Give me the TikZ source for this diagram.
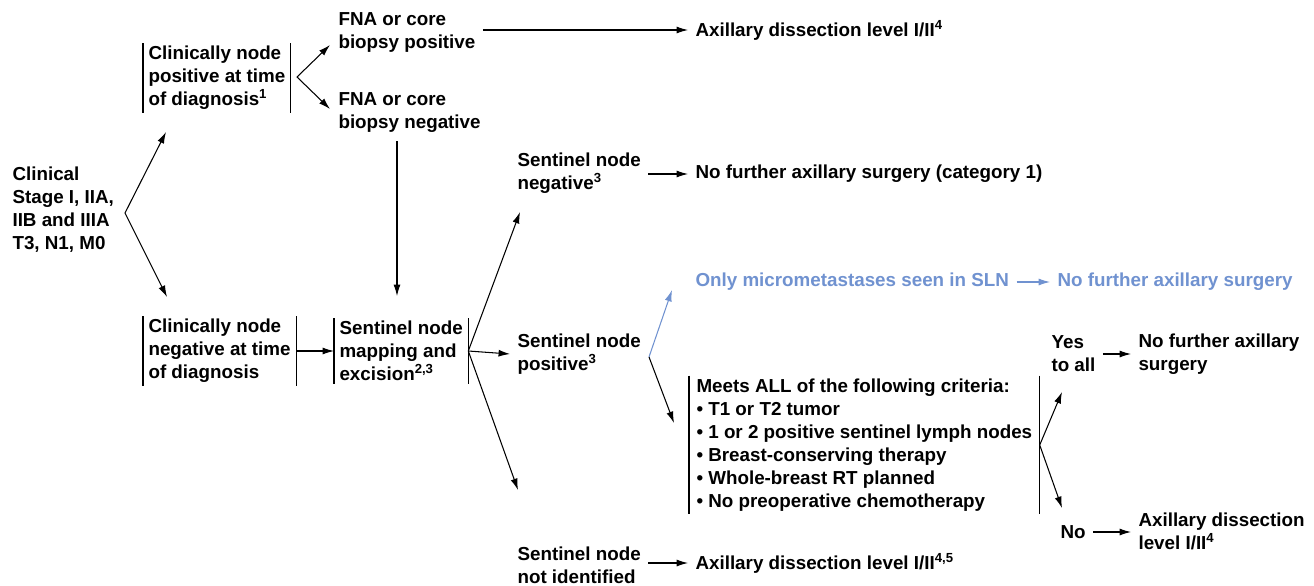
\documentclass[tikz,border=0pt]{standalone}
\usepackage{fontspec}
\setmainfont{Liberation Sans}
\usetikzlibrary{arrows.meta}
\definecolor{slnblue}{RGB}{112,146,208}

\begin{document}
\begin{tikzpicture}[x=0.02cm,y=-0.02cm,
    font=\bfseries\fontsize{10.7}{13.1}\selectfont,
    line width=0.6pt, >={Latex[length=6.5pt,width=4pt]},
    txt/.style={anchor=west,align=left,inner xsep=0.14cm,inner ysep=0pt},
    barbox/.style={anchor=west,align=left,inner xsep=0.1cm,inner ysep=0.05cm,
      append after command={(\tikzlastnode.north west) edge (\tikzlastnode.south west)
        (\tikzlastnode.north east) edge (\tikzlastnode.south east)}}]
   \useasboundingbox (0,0) rectangle (1314,585);

   % left part
   \node[txt] (stage) at (5,210) {Clinical\\Stage I, IIA,\\IIB and IIIA\\T3, N1, M0};
   \node[barbox] (cpos) at (143,78) {Clinically node\\positive at time\\of diagnosis\textsuperscript{1}};
   \node[barbox] (cneg) at (143,351) {Clinically node\\negative at time\\of diagnosis};
   \node[txt] (fnapos) at (331,32) {FNA or core\\biopsy positive};
   \node[txt] (fnaneg) at (331,113) {FNA or core\\biopsy negative};
   \node[barbox] (smap) at (334,351) {Sentinel node\\mapping and\\excision\textsuperscript{2,3}};

   % sentinel node results
   \node[txt] (snneg) at (510,173) {Sentinel node\\negative\textsuperscript{3}};
   \node[txt] (snpos) at (510,354) {Sentinel node\\positive\textsuperscript{3}};
   \node[txt] (snnot) at (510,565) {Sentinel node\\not identified};

   % outcomes
   \node[txt] (axtop) at (688,30) {Axillary dissection level I/II\textsuperscript{4}};
   \node[txt] (nofurther) at (688,174) {No further axillary surgery (category 1)};
   \node[txt,text=slnblue] (micro) at (688,282) {Only micrometastases seen in SLN};
   \node[txt,text=slnblue] (micronf) at (1050,282) {No further axillary surgery};
   \node[barbox,inner xsep=0.14cm] (crit) at (689,445) {Meets ALL of the following criteria:\\
      \textbullet\ T1 or T2 tumor\\
      \textbullet\ 1 or 2 positive sentinel lymph nodes\\
      \textbullet\ Breast-conserving therapy\\
      \textbullet\ Whole-breast RT planned\\
      \textbullet\ No preoperative chemotherapy};
   \node[txt] (yes) at (1044,354) {Yes\\to all};
   \node[txt] (yesnf) at (1131,354) {No further axillary\\surgery};
   \node[txt] (no) at (1053,532) {No};
   \node[txt] (noax) at (1131,531) {Axillary dissection\\level I/II\textsuperscript{4}};
   \node[txt] (notax) at (688,563) {Axillary dissection level I/II\textsuperscript{4,5}};

   % forks
   \coordinate (f0) at (125,213);
   \coordinate (f0a) at (166,132);
   \coordinate (f0b) at (167,297);
   \draw[<->] (f0a) -- (f0) -- (f0b);

   \coordinate (f1) at (297,77);
   \coordinate (f1a) at (330,45);
   \coordinate (f1b) at (330,109);
   \draw[<->] (f1a) -- (f1) -- (f1b);

   \coordinate (v0) at (397,141);
   \coordinate (v1) at (397,296);
   \draw[->] (v0) -- (v1);

   \draw[->] (fnapos.east |- axtop.west) -- (axtop.west);
   \draw[->] (cneg.east) -- (smap.west);

   \coordinate (f2a) at (520,212);
   \coordinate (f2b) at (518,490);
   \draw[<->] (f2a) -- (smap.east) -- (f2b);
   \draw[->] (smap.east) -- (snpos.west);

   \draw[->] (snneg.east |- nofurther.west) -- (nofurther.west);

   \coordinate (f3) at (649,357);
   \coordinate (f3a) at (672,290);
   \coordinate (f3b) at (674,423);
   \draw[->,slnblue] (f3) -- (f3a);
   \draw[->] (f3) -- (f3b);
   \draw[->,slnblue] (micro.east) -- (micronf.west);

   \coordinate (f4a) at (1062,392);
   \coordinate (f4b) at (1062,508);
   \draw[<->] (f4a) -- (crit.east) -- (f4b);
   \draw[->] (yes.east |- yesnf.west) -- (yesnf.west);
   \draw[->] (no.east) -- (noax.west |- no.east);
   \draw[->] (snnot.east |- notax.west) -- (notax.west);

\end{tikzpicture}
\end{document}
